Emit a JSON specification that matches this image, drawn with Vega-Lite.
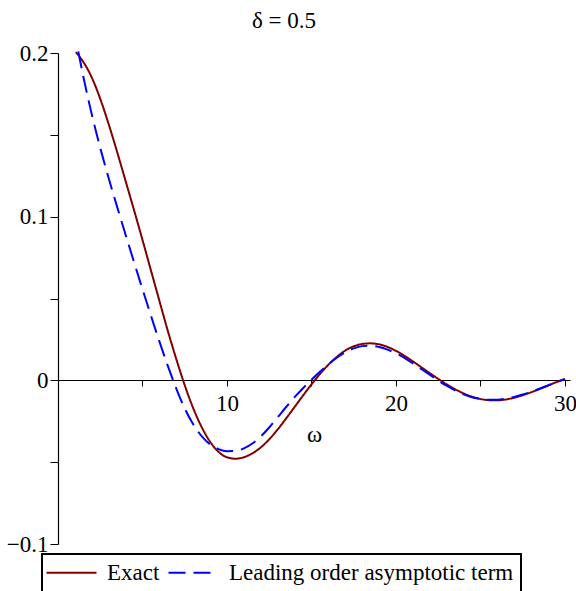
{
  "$schema": "https://vega.github.io/schema/vega-lite/v6.json",
  "autosize": "none",
  "width": 512,
  "height": 491,
  "padding": {"left": 58, "top": 53, "right": 6, "bottom": 47},
  "title": {"text": "δ = 0.5", "font": "Liberation Serif", "fontSize": 23, "fontWeight": "normal", "color": "black", "anchor": "middle", "dx": -30, "offset": 9},
  "config": {
    "view": {"stroke": null},
    "axis": {"labelFont": "Liberation Serif", "labelFontSize": 23, "labelColor": "black", "titleFont": "Liberation Serif", "titleFontSize": 23, "titleFontWeight": "normal", "titleColor": "black", "domainColor": "black", "tickColor": "black", "grid": false, "domainWidth": 1.2, "tickWidth": 1},
    "legend": {"strokeColor": "black", "strokeWidth": 2, "fillColor": "white", "padding": 7, "symbolType": "M-5,0H5", "symbolSize": 100, "symbolOffset": 11, "symbolStrokeWidth": 2, "labelFont": "Liberation Serif", "labelFontSize": 23, "labelColor": "black", "labelOffset": 24, "columnPadding": 4, "labelLimit": 400}
  },
  "data": {"values": [
    {"w": 1.05, "v": 0.2005, "s": "Exact"},
    {"w": 1.5, "v": 0.1945, "s": "Exact"},
    {"w": 2.0, "v": 0.1850, "s": "Exact"},
    {"w": 2.5, "v": 0.1720, "s": "Exact"},
    {"w": 3.0, "v": 0.1565, "s": "Exact"},
    {"w": 3.5, "v": 0.1395, "s": "Exact"},
    {"w": 4.0, "v": 0.1218, "s": "Exact"},
    {"w": 4.5, "v": 0.1040, "s": "Exact"},
    {"w": 5.0, "v": 0.0858, "s": "Exact"},
    {"w": 5.5, "v": 0.0672, "s": "Exact"},
    {"w": 6.0, "v": 0.0486, "s": "Exact"},
    {"w": 6.5, "v": 0.0302, "s": "Exact"},
    {"w": 7.0, "v": 0.0130, "s": "Exact"},
    {"w": 7.5, "v": -0.0030, "s": "Exact"},
    {"w": 8.0, "v": -0.0170, "s": "Exact"},
    {"w": 8.5, "v": -0.0285, "s": "Exact"},
    {"w": 9.0, "v": -0.0375, "s": "Exact"},
    {"w": 9.5, "v": -0.0437, "s": "Exact"},
    {"w": 10.0, "v": -0.0470, "s": "Exact"},
    {"w": 10.5, "v": -0.0479, "s": "Exact"},
    {"w": 11.0, "v": -0.0470, "s": "Exact"},
    {"w": 11.5, "v": -0.0446, "s": "Exact"},
    {"w": 12.0, "v": -0.0410, "s": "Exact"},
    {"w": 12.5, "v": -0.0360, "s": "Exact"},
    {"w": 13.0, "v": -0.0300, "s": "Exact"},
    {"w": 13.5, "v": -0.0233, "s": "Exact"},
    {"w": 14.0, "v": -0.0163, "s": "Exact"},
    {"w": 14.5, "v": -0.0093, "s": "Exact"},
    {"w": 15.0, "v": -0.0025, "s": "Exact"},
    {"w": 15.5, "v": 0.0038, "s": "Exact"},
    {"w": 16.0, "v": 0.0095, "s": "Exact"},
    {"w": 16.5, "v": 0.0143, "s": "Exact"},
    {"w": 17.0, "v": 0.0182, "s": "Exact"},
    {"w": 17.5, "v": 0.0208, "s": "Exact"},
    {"w": 18.0, "v": 0.0222, "s": "Exact"},
    {"w": 18.5, "v": 0.0226, "s": "Exact"},
    {"w": 19.0, "v": 0.0220, "s": "Exact"},
    {"w": 19.5, "v": 0.0204, "s": "Exact"},
    {"w": 20.0, "v": 0.0180, "s": "Exact"},
    {"w": 20.5, "v": 0.0150, "s": "Exact"},
    {"w": 21.0, "v": 0.0116, "s": "Exact"},
    {"w": 21.5, "v": 0.0080, "s": "Exact"},
    {"w": 22.0, "v": 0.0044, "s": "Exact"},
    {"w": 22.5, "v": 0.0009, "s": "Exact"},
    {"w": 23.0, "v": -0.0024, "s": "Exact"},
    {"w": 23.5, "v": -0.0054, "s": "Exact"},
    {"w": 24.0, "v": -0.0080, "s": "Exact"},
    {"w": 24.5, "v": -0.0100, "s": "Exact"},
    {"w": 25.0, "v": -0.0114, "s": "Exact"},
    {"w": 25.5, "v": -0.0121, "s": "Exact"},
    {"w": 26.0, "v": -0.0122, "s": "Exact"},
    {"w": 26.5, "v": -0.0117, "s": "Exact"},
    {"w": 27.0, "v": -0.0106, "s": "Exact"},
    {"w": 27.5, "v": -0.0091, "s": "Exact"},
    {"w": 28.0, "v": -0.0073, "s": "Exact"},
    {"w": 28.5, "v": -0.0053, "s": "Exact"},
    {"w": 29.0, "v": -0.0032, "s": "Exact"},
    {"w": 29.5, "v": -0.0011, "s": "Exact"},
    {"w": 30.0, "v": 0.0008, "s": "Exact"},
    {"w": 1.2, "v": 0.2010, "s": "Leading order asymptotic term"},
    {"w": 1.5, "v": 0.1855, "s": "Leading order asymptotic term"},
    {"w": 2.0, "v": 0.1625, "s": "Leading order asymptotic term"},
    {"w": 2.5, "v": 0.1420, "s": "Leading order asymptotic term"},
    {"w": 3.0, "v": 0.1235, "s": "Leading order asymptotic term"},
    {"w": 3.5, "v": 0.1060, "s": "Leading order asymptotic term"},
    {"w": 4.0, "v": 0.0890, "s": "Leading order asymptotic term"},
    {"w": 4.5, "v": 0.0722, "s": "Leading order asymptotic term"},
    {"w": 5.0, "v": 0.0557, "s": "Leading order asymptotic term"},
    {"w": 5.5, "v": 0.0395, "s": "Leading order asymptotic term"},
    {"w": 6.0, "v": 0.0238, "s": "Leading order asymptotic term"},
    {"w": 6.5, "v": 0.0088, "s": "Leading order asymptotic term"},
    {"w": 7.0, "v": -0.0050, "s": "Leading order asymptotic term"},
    {"w": 7.5, "v": -0.0172, "s": "Leading order asymptotic term"},
    {"w": 8.0, "v": -0.0268, "s": "Leading order asymptotic term"},
    {"w": 8.5, "v": -0.0341, "s": "Leading order asymptotic term"},
    {"w": 9.0, "v": -0.0391, "s": "Leading order asymptotic term"},
    {"w": 9.5, "v": -0.0420, "s": "Leading order asymptotic term"},
    {"w": 10.0, "v": -0.0433, "s": "Leading order asymptotic term"},
    {"w": 10.5, "v": -0.0432, "s": "Leading order asymptotic term"},
    {"w": 11.0, "v": -0.0416, "s": "Leading order asymptotic term"},
    {"w": 11.5, "v": -0.0386, "s": "Leading order asymptotic term"},
    {"w": 12.0, "v": -0.0343, "s": "Leading order asymptotic term"},
    {"w": 12.5, "v": -0.0288, "s": "Leading order asymptotic term"},
    {"w": 13.0, "v": -0.0226, "s": "Leading order asymptotic term"},
    {"w": 13.5, "v": -0.0163, "s": "Leading order asymptotic term"},
    {"w": 14.0, "v": -0.0103, "s": "Leading order asymptotic term"},
    {"w": 14.5, "v": -0.0048, "s": "Leading order asymptotic term"},
    {"w": 15.0, "v": 0.0004, "s": "Leading order asymptotic term"},
    {"w": 15.5, "v": 0.0053, "s": "Leading order asymptotic term"},
    {"w": 16.0, "v": 0.0098, "s": "Leading order asymptotic term"},
    {"w": 16.5, "v": 0.0138, "s": "Leading order asymptotic term"},
    {"w": 17.0, "v": 0.0171, "s": "Leading order asymptotic term"},
    {"w": 17.5, "v": 0.0195, "s": "Leading order asymptotic term"},
    {"w": 18.0, "v": 0.0209, "s": "Leading order asymptotic term"},
    {"w": 18.5, "v": 0.0211, "s": "Leading order asymptotic term"},
    {"w": 19.0, "v": 0.0204, "s": "Leading order asymptotic term"},
    {"w": 19.5, "v": 0.0188, "s": "Leading order asymptotic term"},
    {"w": 20.0, "v": 0.0165, "s": "Leading order asymptotic term"},
    {"w": 20.5, "v": 0.0137, "s": "Leading order asymptotic term"},
    {"w": 21.0, "v": 0.0104, "s": "Leading order asymptotic term"},
    {"w": 21.5, "v": 0.0069, "s": "Leading order asymptotic term"},
    {"w": 22.0, "v": 0.0034, "s": "Leading order asymptotic term"},
    {"w": 22.5, "v": -0.0001, "s": "Leading order asymptotic term"},
    {"w": 23.0, "v": -0.0033, "s": "Leading order asymptotic term"},
    {"w": 23.5, "v": -0.0062, "s": "Leading order asymptotic term"},
    {"w": 24.0, "v": -0.0086, "s": "Leading order asymptotic term"},
    {"w": 24.5, "v": -0.0103, "s": "Leading order asymptotic term"},
    {"w": 25.0, "v": -0.0114, "s": "Leading order asymptotic term"},
    {"w": 25.5, "v": -0.0119, "s": "Leading order asymptotic term"},
    {"w": 26.0, "v": -0.0118, "s": "Leading order asymptotic term"},
    {"w": 26.5, "v": -0.0112, "s": "Leading order asymptotic term"},
    {"w": 27.0, "v": -0.0101, "s": "Leading order asymptotic term"},
    {"w": 27.5, "v": -0.0087, "s": "Leading order asymptotic term"},
    {"w": 28.0, "v": -0.0070, "s": "Leading order asymptotic term"},
    {"w": 28.5, "v": -0.0051, "s": "Leading order asymptotic term"},
    {"w": 29.0, "v": -0.0031, "s": "Leading order asymptotic term"},
    {"w": 29.5, "v": -0.0011, "s": "Leading order asymptotic term"},
    {"w": 30.0, "v": 0.0008, "s": "Leading order asymptotic term"}
  ]},
  "mark": {"type": "line", "strokeWidth": 2, "interpolate": "monotone"},
  "encoding": {
    "x": {"field": "w", "type": "quantitative",
      "scale": {"domain": [0, 30.3], "nice": false, "zero": false},
      "axis": {"title": "ω", "offset": -164, "values": [5, 10, 15, 20, 25, 30], "labelExpr": "datum.value % 10 === 0 ? datum.label : ''", "tickSize": 6, "labelPadding": 6, "titlePadding": 8, "labelFlush": false, "labelOverlap": false}},
    "y": {"field": "v", "type": "quantitative",
      "scale": {"domain": [-0.1, 0.2], "nice": false, "zero": false},
      "axis": {"title": null, "values": [-0.1, -0.05, 0, 0.05, 0.1, 0.15, 0.2], "format": "~g", "labelExpr": "abs(datum.value * 10 - round(datum.value * 10)) < 0.001 ? datum.label : ''", "tickSize": 8, "labelPadding": 2, "labelFlush": false, "labelOverlap": false}},
    "color": {"field": "s", "type": "nominal",
      "scale": {"domain": ["Exact", "Leading order asymptotic term"], "range": ["#800000", "#0000ff"]},
      "legend": {"title": null, "orient": "none", "legendX": -16, "legendY": 501, "direction": "horizontal", "labelExpr": "datum.label == 'Exact' ? datum.label : datum.label + '\u2002'"}},
    "strokeDash": {"field": "s", "type": "nominal",
      "scale": {"domain": ["Exact", "Leading order asymptotic term"], "range": [[1, 0], [17, 8]]},
      "legend": {"title": null, "orient": "none", "legendX": -16, "legendY": 501, "direction": "horizontal", "labelExpr": "datum.label == 'Exact' ? datum.label : datum.label + '\u2002'"}}
  }
}
